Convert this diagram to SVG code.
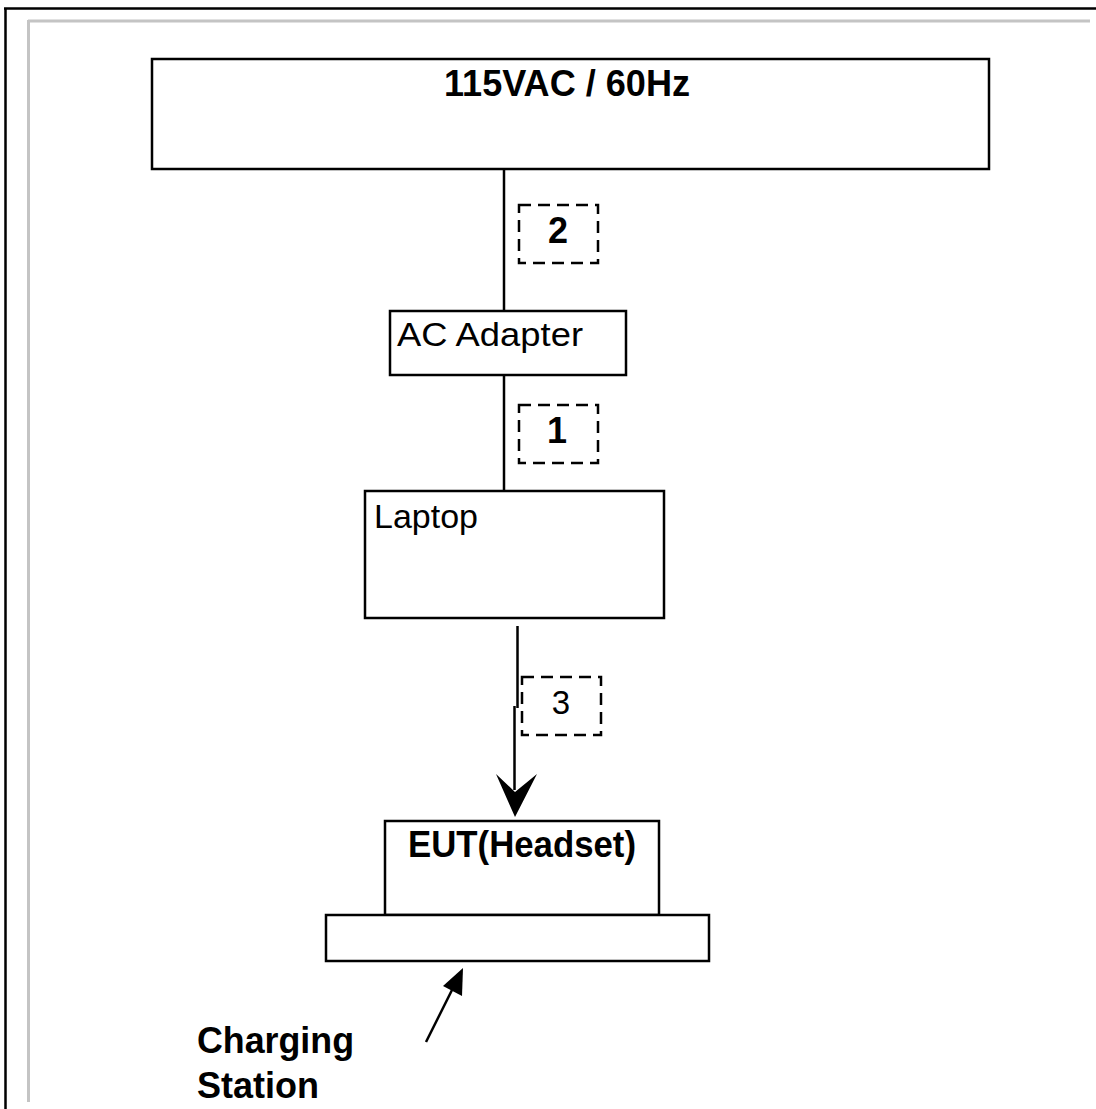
<svg xmlns="http://www.w3.org/2000/svg" width="1096" height="1109" viewBox="0 0 1096 1109">
<style>
.box{fill:#fff;stroke:#000;stroke-width:2.5}
.dash{fill:none;stroke:#000;stroke-width:2.5;stroke-dasharray:12 7}
.wire{stroke:#000;stroke-width:2.5;fill:none}
.b{font-family:"Liberation Sans",Arial,sans-serif;font-weight:bold;font-size:36px;fill:#000}
.r{font-family:"Liberation Sans",Arial,sans-serif;font-size:33px;fill:#000}
</style>
<rect width="1096" height="1109" fill="#fff"/>
<g id="frame">
<path d="M4 8.5H1096M5.5 8V1109" stroke="#000" stroke-width="2.5" fill="none"/>
<path d="M28 21H1090M28.5 20V1102" stroke="#c4c4c4" stroke-width="3" fill="none"/>
</g>
<g id="connectors">
<line class="wire" x1="504" y1="169" x2="504" y2="311"/>
<line class="wire" x1="504" y1="375" x2="504" y2="490"/>
<path class="wire" d="M517.5 626V708M514.5 706V790"/>
<path d="M496 774L515 792L537 774L515 817Z" fill="#000"/>
<line class="wire" x1="426" y1="1042" x2="454" y2="986"/>
<path d="M463 968L443 986L462 996Z" fill="#000"/>
<rect class="dash" x="519" y="205" width="79" height="58"/>
<text class="b" x="558" y="243" text-anchor="middle" font-size="35">2</text>
<rect class="dash" x="519" y="405" width="79" height="58"/>
<text class="b" x="557" y="443" text-anchor="middle" font-size="35">1</text>
<rect class="dash" x="522" y="677" width="79" height="58"/>
<text class="r" x="561" y="714" text-anchor="middle" font-size="35">3</text>
</g>
<g id="power">
<rect class="box" x="152" y="59" width="837" height="110"/>
<text class="b" x="444" y="96" textLength="246" lengthAdjust="spacingAndGlyphs">115VAC / 60Hz</text>
</g>
<g id="adapter">
<rect class="box" x="390" y="311" width="236" height="64"/>
<text class="r" x="397" y="346" textLength="186" lengthAdjust="spacingAndGlyphs">AC Adapter</text>
</g>
<g id="laptop">
<rect class="box" x="365" y="491" width="299" height="127"/>
<text class="r" x="374" y="528" textLength="104" lengthAdjust="spacingAndGlyphs">Laptop</text>
</g>
<g id="eut">
<rect class="box" x="385" y="821" width="274" height="94"/>
<text class="b" x="408" y="857" textLength="228" lengthAdjust="spacingAndGlyphs">EUT(Headset)</text>
</g>
<g id="station">
<rect class="box" x="326" y="915" width="383" height="46"/>
</g>
<g id="station-label">
<text class="b" x="197" y="1053" textLength="157" lengthAdjust="spacingAndGlyphs">Charging</text>
<text class="b" x="197" y="1098" textLength="122" lengthAdjust="spacingAndGlyphs">Station</text>
</g>
</svg>
